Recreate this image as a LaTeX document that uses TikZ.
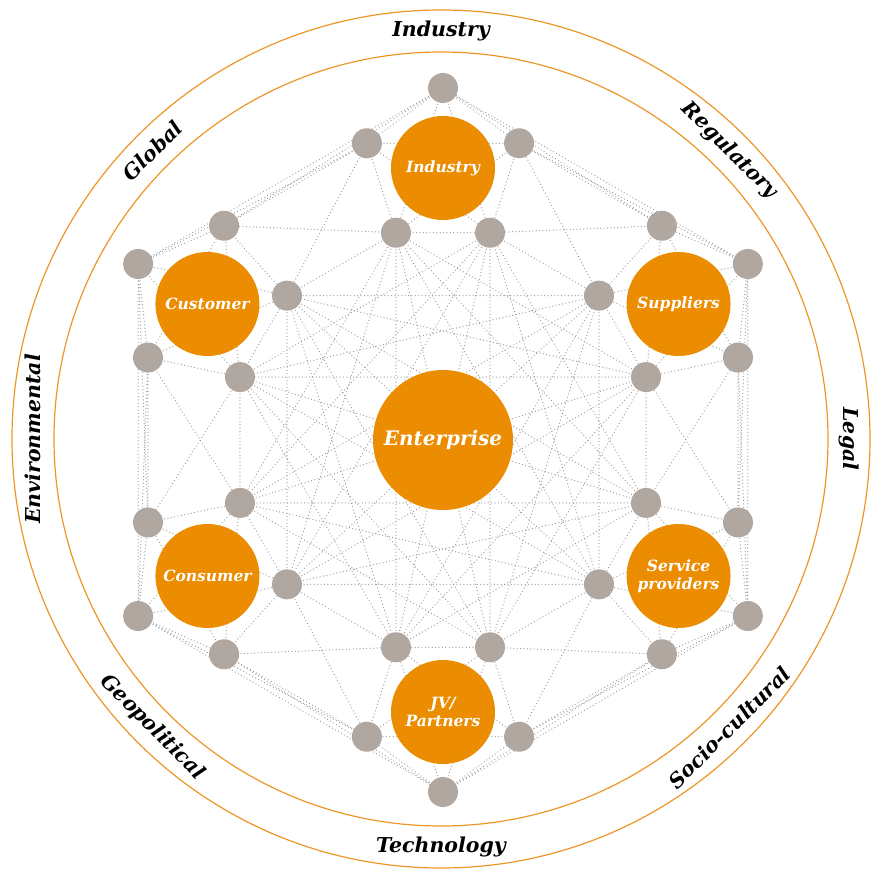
\documentclass[tikz,border=0pt]{standalone}
\usepackage{fontspec}
\setmainfont{DejaVu Serif}
\usetikzlibrary{calc}
\definecolor{pwcorange}{RGB}{236,140,0}
\definecolor{dotgray}{RGB}{176,167,161}
\definecolor{linegray}{RGB}{152,152,152}
\definecolor{ringorange}{RGB}{236,150,40}
\pgfdeclarelayer{bg}
\pgfsetlayers{bg,main}
\tikzset{
  sat/.style={circle, fill=pwcorange, minimum size=104pt, inner sep=0pt, text=white,
    font=\fontsize{15.5}{18.5}\selectfont\bfseries\itshape, align=center},
  ent/.style={circle, fill=pwcorange, minimum size=140pt, inner sep=0pt, text=white,
    font=\fontsize{20}{24}\selectfont\bfseries\itshape},
  gdot/.style={circle, fill=dotgray, minimum size=30pt, inner sep=0pt},
  ringlabel/.style={font=\fontsize{20.5}{24}\selectfont\bfseries\itshape, text=black, inner sep=0pt},
  web/.style={draw=linegray, line width=1.25pt, line cap=round, dash pattern=on 0pt off 3.4pt},
  ring/.style={draw=ringorange, line width=1.2pt}
}
\begin{document}
\begin{tikzpicture}[x=1pt,y=1pt]
\useasboundingbox (-441,-434) rectangle (430,439);
\coordinate (O) at (0,0);
\coordinate (H) at (2,-1);
\draw[ring] (O) circle (429pt);
\draw[ring] (O) circle (387pt);
% ring labels
\node[ringlabel] (lInd) at (90:408) {Industry};
\node[ringlabel, rotate=-45] (lReg) at (45:408) {Regulatory};
\node[ringlabel, rotate=-90] (lLeg) at (0:408) {Legal};
\node[ringlabel, rotate=45] (lSoc) at (-45:408) {Socio-cultural};
\node[ringlabel] (lTec) at (-90:408) {Technology};
\node[ringlabel, rotate=-45] (lGeo) at (-135:408) {Geopolitical};
\node[ringlabel, rotate=90] (lEnv) at (180:408) {Environmental};
\node[ringlabel, rotate=45] (lGlo) at (135:408) {Global};
% clusters
\foreach \k/\txt in {0/Industry,1/Customer,2/Consumer,3/{JV/\\Partners},4/{Service\\providers},5/Suppliers}{
  \pgfmathsetmacro\th{90+60*\k}
  \node[sat] (s\k) at ($(H)+(\th:272)$) {\txt};
  \node[gdot] (o\k) at ($(s\k)+(\th:80)$) {};
  \node[gdot] (a\k) at ($(s\k)+(\th+72:80)$) {};
  \node[gdot] (b\k) at ($(s\k)+(\th-72:80)$) {};
  \node[gdot] (c\k) at ($(s\k)+(\th+144:80)$) {};
  \node[gdot] (d\k) at ($(s\k)+(\th-144:80)$) {};
}
\node[ent] (E) at (H) {Enterprise};
% web of dotted connectors
\begin{pgfonlayer}{bg}
\foreach \k in {0,...,5}{
  \pgfmathtruncatemacro\m{mod(\k+1,6)}
  \pgfmathtruncatemacro\n{mod(\k+2,6)}
  % within cluster
  \draw[web] (o\k.center)--(a\k.center) (o\k.center)--(b\k.center)
    (o\k.center)--(c\k.center) (o\k.center)--(d\k.center)
    (a\k.center)--(b\k.center) (a\k.center)--(c\k.center)
    (a\k.center)--(d\k.center) (b\k.center)--(c\k.center)
    (b\k.center)--(d\k.center) (c\k.center)--(d\k.center);
  % adjacent clusters
  \draw[web] (o\k.center)--(o\m.center) (a\k.center)--(b\m.center)
    (c\k.center)--(b\m.center) (a\k.center)--(d\m.center)
    (c\k.center)--(d\m.center) (d\k.center)--(c\m.center)
    (a\k.center)--(o\m.center) (o\k.center)--(b\m.center);
  % two apart
  \draw[web] (c\k.center)--(d\n.center) (d\k.center)--(c\n.center)
    (c\k.center)--(c\n.center) (d\k.center)--(d\n.center);
}
\foreach \k in {0,1,2}{
  \pgfmathtruncatemacro\q{\k+3}
  \draw[web] (c\k.center)--(d\q.center) (d\k.center)--(c\q.center)
    (c\k.center)--(c\q.center) (d\k.center)--(d\q.center);
}
\end{pgfonlayer}
\end{tikzpicture}
\end{document}
